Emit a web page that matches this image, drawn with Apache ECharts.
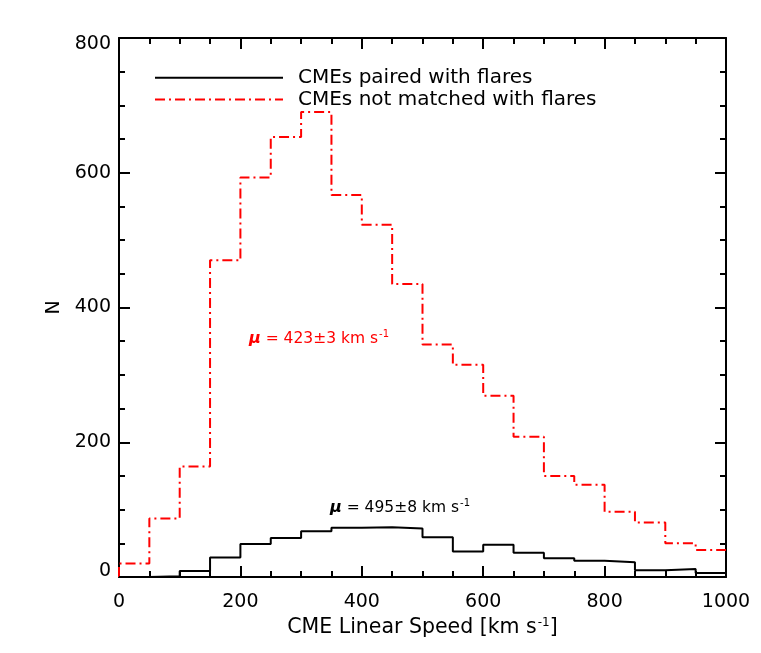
<!DOCTYPE html>
<html>
<head>
<meta charset="utf-8">
<script src="https://cdn.jsdelivr.net/npm/echarts@6/dist/echarts.min.js"></script>
<style>
html,body{margin:0;padding:0;background:#fff;}
#chart{width:761px;height:653px;}
</style>
</head>
<body>
<div id="chart"></div>
<script>
// Bin left edges (km/s), bin width 50
var binEdges = [0, 50, 100, 150, 200, 250, 300, 350, 400, 450, 500, 550, 600, 650, 700, 750, 800, 850, 900, 950];
var binEnd = 1000;
// CMEs paired with flares
var pairedCounts = [0, 1, 9, 29, 49, 58, 68, 73, 74, 72, 59, 38, 48, 36, 28, 24, 22, 10, 12, 6];
// CMEs not matched with flares
var unmatchedCounts = [20, 87, 164, 470, 593, 653, 690, 567, 523, 435, 345, 315, 269, 208, 150, 137, 97, 81, 50, 40];
var xTicks = [0, 200, 400, 600, 800, 1000];
var yTicks = [0, 200, 400, 600, 800];
var seriesNames = ['CMEs paired with flares', 'CMEs not matched with flares'];

function stepData(counts, startFromZero) {
  var d = [];
  if (startFromZero) d.push([binEdges[0], 0]);
  for (var i = 0; i < binEdges.length; i++) d.push([binEdges[i], counts[i]]);
  d.push([binEnd, counts[counts.length - 1]]);
  return d;
}

var FONT = 'DejaVu Sans';
var chart = echarts.init(document.getElementById('chart'));
var axisCommon = {
  axisLine: {show: true, onZero: false, lineStyle: {color: '#000', width: 2}},
  axisTick: {show: true, inside: true, length: 11, lineStyle: {color: '#000', width: 2}},
  minorTick: {show: true, splitNumber: 4, length: 6, lineStyle: {color: '#000', width: 2}},
  splitLine: {show: false}
};
function ax(extra) { return Object.assign({}, JSON.parse(JSON.stringify(axisCommon)), extra); }

function muText(label, color) {
  return {
    text: '{mu|μ}{t| = ' + label + ' km s}{sup|-1}', fill: color,
    rich: {mu: {fontFamily: FONT, fontSize: 16, fontStyle: 'italic', fontWeight: 'bold', fill: color},
           t: {fontFamily: FONT, fontSize: 15.5, fill: color},
           sup: {fontFamily: FONT, fontSize: 10, fill: color, verticalAlign: 'top', padding: [0, 0, 9, 1]}}
  };
}

chart.setOption({
  animation: false,
  backgroundColor: '#fff',
  grid: {left: 119, right: 35, top: 38, bottom: 76, containLabel: false},
  legend: {
    orient: 'vertical', left: 149, top: 62, itemWidth: 128, itemHeight: 14, itemGap: 0,
    data: seriesNames,
    itemStyle: {opacity: 0},
    textStyle: {fontFamily: FONT, fontSize: 20, color: '#000', lineHeight: 21.6, padding: [0, 0, 0, 10]}
  },
  xAxis: [
    ax({type: 'value', position: 'bottom', min: 0, max: 1000, interval: 200,
      axisLabel: {fontFamily: FONT, fontSize: 19, color: '#000', margin: 16,
        formatter: function (v) { return xTicks.indexOf(v) >= 0 ? String(v) : ''; }},
      name: '{t|CME Linear Speed [km s}{sup|-1}{t|]}', nameLocation: 'middle', nameGap: 40,
      nameTextStyle: {fontFamily: FONT, fontSize: 20, color: '#000',
        rich: {t: {fontFamily: FONT, fontSize: 20.5, color: '#000'},
               sup: {fontFamily: FONT, fontSize: 12, color: '#000', verticalAlign: 'top', padding: [0, 0, 10, 1]}}}
    }),
    ax({type: 'value', position: 'top', min: 0, max: 1000, interval: 200, axisLabel: {show: false}})
  ],
  yAxis: [
    ax({type: 'value', position: 'left', min: 0, max: 800, interval: 200,
      axisLabel: {fontFamily: FONT, fontSize: 19, color: '#000', margin: 8, lineHeight: 12,
        verticalAlignMinLabel: 'bottom', verticalAlignMaxLabel: 'top',
        formatter: function (v) { return yTicks.indexOf(v) >= 0 ? String(v) : ''; }},
      name: 'N', nameLocation: 'middle', nameGap: 48, nameRotate: 90,
      nameTextStyle: {fontFamily: FONT, fontSize: 19, color: '#000'}
    }),
    ax({type: 'value', position: 'right', min: 0, max: 800, interval: 200, axisLabel: {show: false}})
  ],
  series: [
    {name: seriesNames[0], type: 'line', step: 'end', symbol: 'none', showSymbol: false,
      data: stepData(pairedCounts, false), z: 3,
      lineStyle: {color: '#000', width: 2}, itemStyle: {color: '#000'}},
    {name: seriesNames[1], type: 'line', step: 'end', symbol: 'none', showSymbol: false,
      data: stepData(unmatchedCounts, true), z: 2,
      lineStyle: {color: '#ff0000', width: 2, type: [10, 4, 2, 4]}, itemStyle: {color: '#ff0000'}}
  ],
  graphic: [
    {type: 'text', left: 249, top: 329, z: 10, style: muText('423±3', '#ff0000')},
    {type: 'text', left: 330, top: 498, z: 10, style: muText('495±8', '#000')}
  ]
});
</script>
</body>
</html>
